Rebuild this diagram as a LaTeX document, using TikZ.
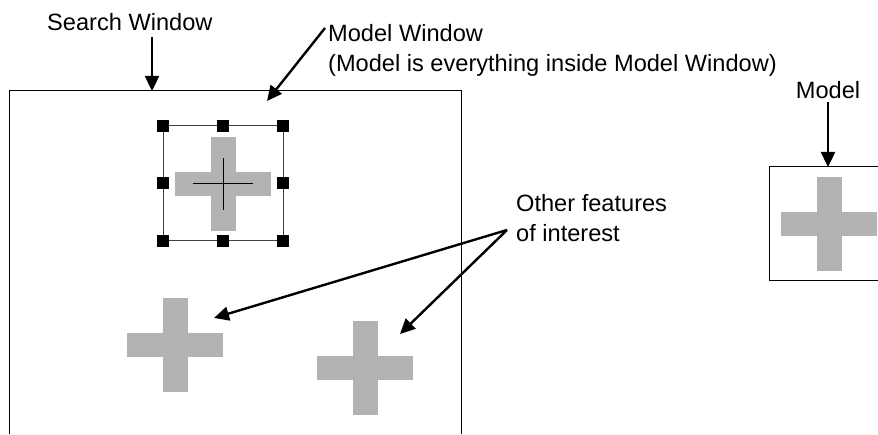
\documentclass[tikz,border=0pt]{standalone}
\usepackage{fontspec}
\setmainfont{Liberation Sans}
\usetikzlibrary{arrows.meta,positioning,calc}
\definecolor{featgray}{HTML}{B3B3B3}
\tikzset{
  label text/.style={font=\fontsize{23.6}{30}\selectfont, inner sep=0pt},
  window line/.style={black, line width=1pt},
  frame line/.style={black!75, line width=1pt},
  handle/.style={rectangle, fill=black, minimum size=12.5pt, inner sep=0pt},
  pointer/.style={-{Triangle[length=15pt,width=14pt]}, black, line width=2.4pt},
  feature/.pic={
    \fill[featgray] (-12.5,-47) rectangle (12.5,47);
    \fill[featgray] (-48,-12) rectangle (48,12);
  },
}

\begin{document}
\begin{tikzpicture}[x=1pt,y=1pt]
  \useasboundingbox (0,0) rectangle (878,434);

  % Search window (open at the bottom edge)
  \draw[window line] (9,0) |- (461,343) -- (461,0);

  % Model window with its handles
  \draw[frame line] (163,193) rectangle (283,308);
  \pic at (223,250) {feature};
  \draw[black, line width=1pt] (193,250) -- (253,250) (223,224) -- (223,276);
  \foreach \p [count=\i] in {(163,308),(223,308),(283,308),(163,251),
                             (283,251),(163,193),(223,193),(283,193)}
    \node[handle] (handle\i) at \p {};

  % other features in the search window
  \pic at (175,89) {feature};
  \pic at (365,66) {feature};

  % Model (cut by the right edge)
  \draw[window line] (878,267) -| (769,153) -- (878,153);
  \pic at (829,210) {feature};

  % labels (base of a two-line label is its last line)
  \node[label text, anchor=base west] (swlabel) at (47,403) {Search Window};
  \node[label text, anchor=base west, align=left] (mwlabel) at (328,362)
    {Model Window\\(Model is everything inside Model Window)};
  \node[label text, anchor=base] (mlabel) at (828,335) {Model};
  \node[label text, anchor=base west, align=left] (oflabel) at (516,192)
    {Other features\\of interest};

  % arrow ends
  \coordinate (swtail) at (152,397);
  \coordinate (swtip) at (152,343);
  \coordinate (mwtail) at (325,406);
  \coordinate (mwtip) at (267,333);
  \coordinate (mtip) at (828,267);
  \coordinate (oftail) at (507,204);
  \coordinate (oftipa) at (214,116);
  \coordinate (oftipb) at (400,100);

  \draw[pointer] (swtail) -- (swtip);
  \draw[pointer] (mwtail) -- (mwtip);
  \draw[pointer] ([yshift=-3pt]mlabel.south) -- (mtip);
  \draw[pointer] (oftail) -- (oftipa);
  \draw[pointer] (oftail) -- (oftipb);
\end{tikzpicture}
\end{document}
